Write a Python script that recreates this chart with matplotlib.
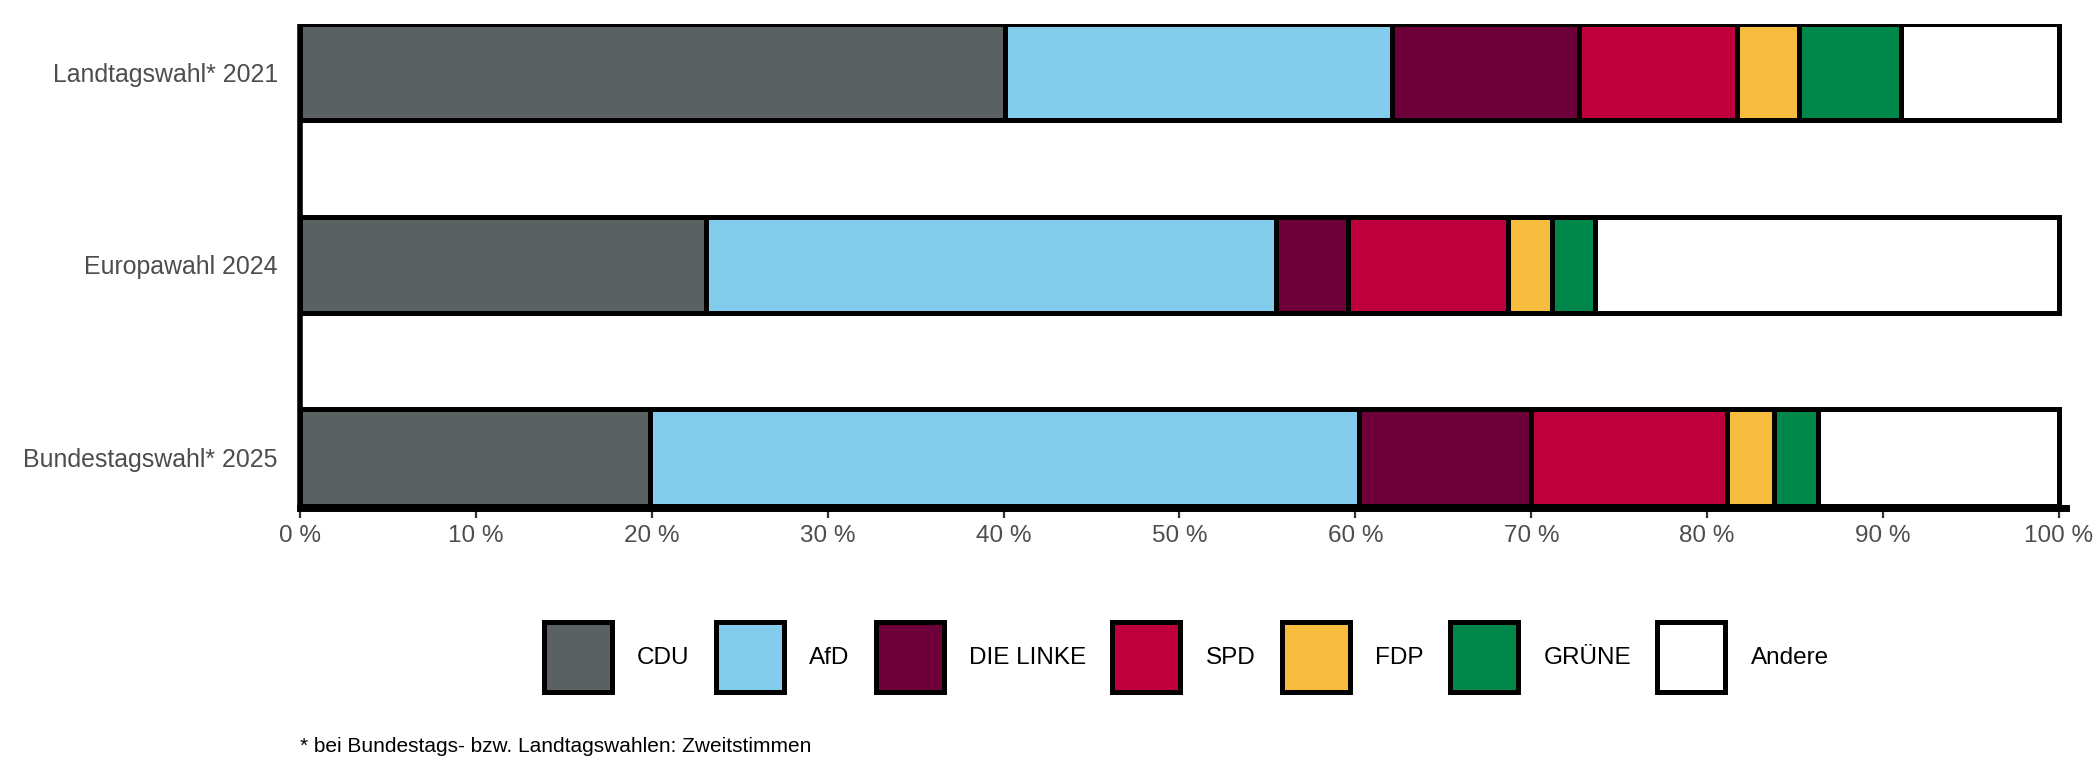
import matplotlib
matplotlib.use("Agg")
import matplotlib.pyplot as plt
from matplotlib.patches import Patch
import numpy as np

plt.rcParams['font.family'] = ['Liberation Sans', 'DejaVu Sans']

elections = ["Landtagswahl* 2021", "Europawahl 2024", "Bundestagswahl* 2025"]
parties = ["CDU", "AfD", "DIE LINKE", "SPD", "FDP", "GRÜNE", "Andere"]
colors = ["#596163", "#82cdec", "#6e0039", "#c0003c", "#f7bc3d", "#00874a", "#ffffff"]

# shares in percent, per election (same order as elections)
cdu    = [40.1, 23.1, 19.9]
afd    = [22.0, 32.4, 40.3]
linke  = [10.6,  4.1,  9.8]
spd    = [ 9.0,  9.1, 11.1]
fdp    = [ 3.5,  2.5,  2.7]
gruene = [ 5.8,  2.4,  2.5]
andere = [ 9.0, 26.4, 13.7]
series = [cdu, afd, linke, spd, fdp, gruene, andere]

x_ticks = list(range(0, 101, 10))
x_ticklabels = [f"{t} %" for t in x_ticks]

fig = plt.figure(figsize=(21, 7.8), dpi=100)
ax = fig.add_axes([300/2100, 1-508/780, (2066-300)/2100, (508-24)/780])

ypos = np.arange(len(elections))[::-1]
left = np.zeros(len(elections))
for name, vals, col in zip(parties, series, colors):
    vals = np.array(vals)
    ax.barh(ypos, vals, left=left, height=0.5, color=col, edgecolor="black",
            linewidth=3.6, label=name, zorder=2)
    left += vals

ax.set_xlim(0, 100.4)
ax.set_ylim(-0.262, 2.25)
ax.set_yticks(ypos)
ax.set_yticklabels(elections)
ax.set_xticks(x_ticks)
ax.set_xticklabels(x_ticklabels)
ax.tick_params(axis='y', length=0, pad=16, labelsize=17.9, labelcolor="#4d4d4d")
ax.tick_params(axis='x', length=7, width=1.6, color="#333333", pad=5,
               labelsize=17.5, labelcolor="#4d4d4d")
for s in ["top", "right"]:
    ax.spines[s].set_visible(False)
ax.spines["left"].set_linewidth(4)
ax.spines["left"].set_capstyle("butt")
ax.spines["bottom"].set_linewidth(5)
ax.spines["left"].set_zorder(3)
ax.spines["bottom"].set_zorder(3)

handles = [Patch(facecolor=c, edgecolor="black", linewidth=3.6) for c in colors]
fig.legend(handles, parties, loc="center", bbox_to_anchor=(0.5648, 1-657/780),
           ncol=7, frameon=False, fontsize=17.5, handlelength=2.8, handleheight=4.0,
           handletextpad=1.05, columnspacing=1.07, borderpad=0)

fig.text(300/2100, 1-747/780, "* bei Bundestags- bzw. Landtagswahlen: Zweitstimmen",
         fontsize=15, va="center", ha="left", color="black")

fig.savefig("out.png", dpi=100, facecolor="white")
